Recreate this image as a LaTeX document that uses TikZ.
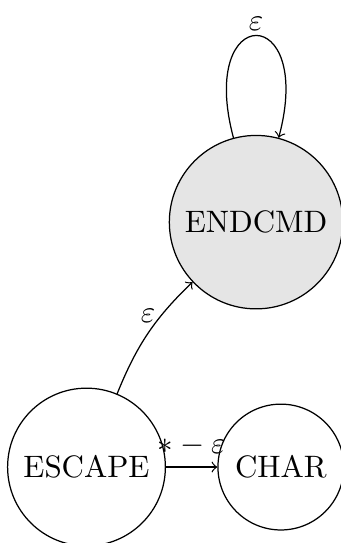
\documentclass[tikz,border=0pt]{standalone}
\begin{document}
\begin{tikzpicture}[x=1pt, y=1pt, line cap=round, line join=round,
        statenode/.style={circle, draw, inner sep=4pt},
        endnode/.style={statenode, fill=gray!20}]
        % parameters
        \def\ybase{24.5} % height of the lower row of states
        \def\xesc{27.9}  % x of ESCAPE
        \def\xchr{90.6}  % x of CHAR

        % frame
        \useasboundingbox (0,0) rectangle (110,175.16);

        % states
        \node[statenode] (escape) at (\xesc,\ybase) {ESCAPE};
        \node[statenode] (char)   at (\xchr,\ybase) {CHAR};
        \node[endnode]   (endcmd) at (82.6,103.5)   {ENDCMD};

        % transitions
        \draw[->] (escape) to[bend left=12] node[above] {$\varepsilon$} (endcmd);
        \draw[->] (escape) -- node[above] {$* - \varepsilon$} (char);
        \draw[->] (endcmd) to[loop above] node[above, yshift=-2pt] {$\varepsilon$} (endcmd);
    \end{tikzpicture}
\end{document}
